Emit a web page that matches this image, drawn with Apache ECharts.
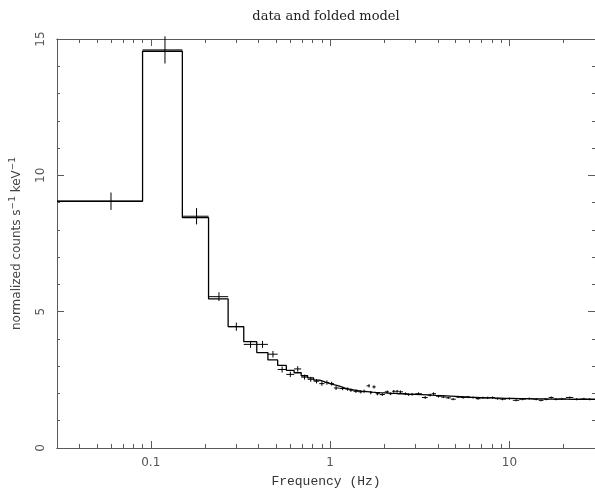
<!DOCTYPE html>
<html><head><meta charset="utf-8">
<script src="https://cdn.jsdelivr.net/npm/echarts@6/dist/echarts.min.js"></script>
<style>html,body{margin:0;padding:0;background:#fff}#c{width:595px;height:493px}</style>
</head><body><div id="c"></div>
<script>
// Bin centres (Hz)
const freqCenters = [0.06,0.12,0.18,0.24,0.30,0.36,0.42,0.48,0.54,0.60,0.66,0.72,0.78,0.84,0.90,0.96,1.02,1.08,
  1.175,1.253,1.306,1.392,1.484,1.547,1.648,1.685,1.757,1.835,1.955,2.084,2.173,2.266,2.366,2.467,2.63,2.742,2.864,3.113,
  3.39,3.61,3.77,4.02,4.28,4.56,4.86,5.18,5.52,5.88,6.27,6.68,7.12,7.56,8.05,8.6,9.15,10.0,10.9,11.8,12.9,14.1,15.0,16.0,
  17.1,18.2,19.6,21.7,23.7,26.0,28.0];
// Data (normalized counts s^-1 keV^-1)
const dataValues = [9.05,14.6,8.5,5.55,4.45,3.80,3.80,3.44,2.88,2.70,2.90,2.60,2.52,2.45,2.36,2.40,2.36,2.20,
  2.18,2.16,2.12,2.08,2.06,2.08,2.28,2.03,2.24,1.99,1.96,2.06,1.99,2.08,2.08,2.06,1.99,1.96,1.97,1.99,
  1.85,1.94,1.99,1.90,1.87,1.84,1.79,1.87,1.85,1.87,1.85,1.81,1.84,1.84,1.85,1.81,1.79,1.81,1.75,1.79,1.81,1.79,1.75,1.79,
  1.85,1.79,1.80,1.85,1.79,1.80,1.79];
const dataErrors = [0.32,0.5,0.3,0.16,0.15,0.13,0.13,0.12,0.11,0.1,0.1,0.09,0.09,0.08,0.08,0.08,0.07,0.07,
  0.06,0.06,0.06,0.06,0.06,0.06,0.06,0.06,0.06,0.06,0.05,0.05,0.05,0.05,0.05,0.05,0.05,0.05,0.05,0.05,
  0.05,0.05,0.05,0.05,0.04,0.04,0.04,0.04,0.04,0.04,0.04,0.04,0.04,0.04,0.04,0.04,0.04,0.04,0.04,0.04,0.04,0.04,0.04,0.04,
  0.04,0.04,0.04,0.04,0.04,0.04,0.04];
// Folded model
const modelValues = [9.05,14.55,8.45,5.47,4.45,3.90,3.50,3.23,3.03,2.85,2.76,2.65,2.57,2.49,2.43,2.37,2.32,2.27,
  2.20,2.16,2.13,2.10,2.08,2.07,2.06,2.05,2.04,2.03,2.02,2.01,2.00,2.00,1.99,1.99,1.98,1.97,1.97,1.96,
  1.95,1.94,1.93,1.92,1.91,1.90,1.89,1.88,1.87,1.86,1.86,1.85,1.84,1.84,1.83,1.83,1.82,1.82,1.81,1.81,1.80,1.80,1.80,1.79,
  1.79,1.79,1.79,1.78,1.78,1.78,1.78];
const freqMin = 0.03, freqMax = 30;
const xMajorTicks = [0.1, 1, 10];
const xMinorTicks = [0.04,0.05,0.06,0.07,0.08,0.09,0.2,0.3,0.4,0.5,0.6,0.7,0.8,0.9,2,3,4,5,6,7,8,9,20];
const yMin = 0, yMax = 15, yStep = 5;

// bin edges = midpoints between neighbouring centres
const edges = [freqMin];
for (let i = 1; i < freqCenters.length; i++) edges.push((freqCenters[i-1] + freqCenters[i]) / 2);
edges.push(freqMax);

const crossData = freqCenters.map((c, i) => [edges[i], edges[i+1], dataValues[i], dataErrors[i], c]);
const modelLine = [];
modelValues.forEach((v, i) => { modelLine.push([edges[i], v]); modelLine.push([edges[i+1], v]); });

const axisColor = '#5a5a5a';
const labelColor = '#555';
function xAxisDef(pos, ticks, len, showLabel) {
  return {
    type: 'log', logBase: 10, position: pos, min: freqMin, max: freqMax,
    axisLine: { show: true, onZero: false, lineStyle: { color: axisColor, width: 1 } },
    axisTick: { show: true, inside: true, length: len, customValues: ticks, lineStyle: { color: axisColor } },
    axisLabel: showLabel ? { show: true, customValues: xMajorTicks, color: labelColor, fontSize: 12,
      fontFamily: 'DejaVu Sans', margin: 9, formatter: v => String(+v.toPrecision(3)) } : { show: false },
    splitLine: { show: false }, minorTick: { show: false }
  };
}
function yAxisDef(pos, showLabel) {
  const ax = {
    type: 'value', position: pos, min: yMin, max: yMax, interval: yStep,
    axisLine: { show: true, onZero: false, lineStyle: { color: axisColor, width: 1 } },
    axisTick: { show: true, inside: true, length: 7, lineStyle: { color: axisColor } },
    minorTick: { show: true, splitNumber: 5, length: 3, lineStyle: { color: axisColor } },
    axisLabel: showLabel ? { show: true, rotate: 90, color: labelColor, fontSize: 12, fontFamily: 'DejaVu Sans', margin: 10 } : { show: false },
    splitLine: { show: false }
  };
  if (showLabel) {
    ax.name = 'normalized counts s{sup|\u22121} keV{sup|\u22121}';
    ax.nameLocation = 'middle';
    ax.nameRotate = 90;
    ax.nameGap = 32;
    ax.nameTextStyle = { color: '#444', fontSize: 12, fontFamily: 'DejaVu Sans',
      rich: { sup: { fontSize: 9, verticalAlign: 'top', padding: [0, 0, 8, 0], color: '#444', fontFamily: 'DejaVu Sans' } } };
  }
  return ax;
}

const chart = echarts.init(document.getElementById('c'), null, { renderer: 'canvas' });
const bottomMajor = xAxisDef('bottom', xMajorTicks, 7, true);
bottomMajor.name = 'Frequency (Hz)';
bottomMajor.nameLocation = 'middle';
bottomMajor.nameGap = 27;
bottomMajor.nameTextStyle = { fontFamily: 'Liberation Mono', fontSize: 13, color: '#333' };

chart.setOption({
  animation: false,
  backgroundColor: '#fff',
  title: { text: 'data and folded model', left: 321, top: 5, textAlign: 'center',
    textStyle: { fontFamily: 'DejaVu Serif', fontSize: 13, fontWeight: 'normal', color: '#222' } },
  grid: { left: 55, top: 39, width: 541, height: 412.5, containLabel: false },
  xAxis: [bottomMajor, xAxisDef('bottom', xMinorTicks, 4, false),
          xAxisDef('top', xMajorTicks, 7, false), xAxisDef('top', xMinorTicks, 4, false)],
  yAxis: [yAxisDef('left', true), yAxisDef('right', false)],
  series: [
    { type: 'line', xAxisIndex: 0, yAxisIndex: 0, data: modelLine, showSymbol: false, symbol: 'none',
      lineStyle: { color: '#000', width: 1.3 }, clip: true, z: 3 },
    { type: 'custom', xAxisIndex: 0, yAxisIndex: 0, data: crossData, encode: { x: [0, 1, 4], y: 2 }, z: 4,
      renderItem: function (params, api) {
        const lo = api.value(0), hi = api.value(1), v = api.value(2), e = api.value(3), c = api.value(4);
        const pL = api.coord([lo, v]), pR = api.coord([hi, v]);
        const pT = api.coord([c, v + e]), pB = api.coord([c, v - e]);
        const st = { stroke: '#000', lineWidth: 1 };
        return { type: 'group', children: [
          { type: 'line', shape: { x1: pL[0], y1: pL[1], x2: pR[0], y2: pR[1] }, style: st },
          { type: 'line', shape: { x1: pT[0], y1: pT[1], x2: pB[0], y2: pB[1] }, style: st }
        ] };
      } }
  ]
});
</script></body></html>
